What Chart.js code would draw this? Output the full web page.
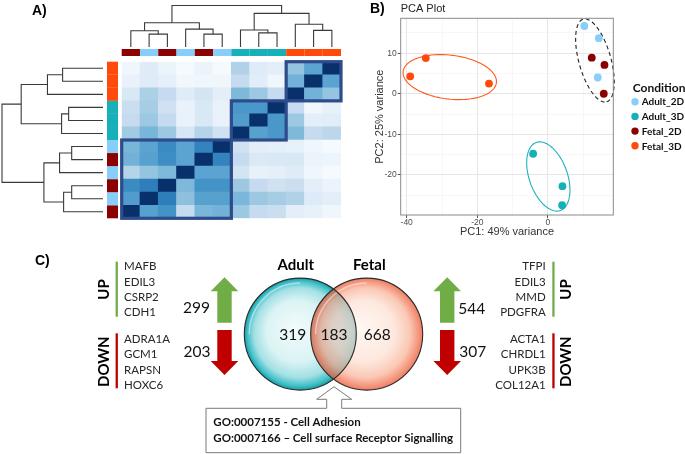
<!DOCTYPE html>
<html>
<head>
<meta charset="utf-8">
<title>Figure</title>
<script src="https://cdn.jsdelivr.net/npm/chart.js@4.4.1/dist/chart.umd.min.js"></script>
<style>
  body { margin: 0; background: #fff; }
  #wrap { position: relative; width: 685px; height: 454px; overflow: hidden; }
  canvas { position: absolute; }
</style>
</head>
<body>
<div id="wrap">
  <canvas id="heatChart" width="350" height="240" style="left:0;top:0"></canvas>
  <canvas id="pcaChart" width="335" height="240" style="left:350px;top:0"></canvas>
  <canvas id="vennChart" width="685" height="214" style="left:0;top:240px"></canvas>
</div>
<script>

// ---- data ----
// sample order of the heatmap columns (rows are the same samples, bottom to top)
var sampleGroups = ["Fetal_2D","Adult_2D","Fetal_2D","Adult_2D","Fetal_2D","Adult_2D",
                    "Adult_3D","Adult_3D","Adult_3D","Fetal_3D","Fetal_3D","Fetal_3D"];
var groupColors = {Adult_2D: "#87cefa", Adult_3D: "#15b0b8", Fetal_2D: "#8b0000", Fetal_3D: "#ff4a0a"};

// sample similarity, rows as seen top to bottom, columns left to right (1 = identical)
var heatRows = [
  [0.04,0.12,0.06,0.01,0.06,0.01, 0.32,0.12,0.10,0.40,0.55,1.00],
  [0.07,0.12,0.09,0.03,0.04,0.04, 0.25,0.11,0.04,0.48,1.00,0.55],
  [0.15,0.33,0.25,0.12,0.18,0.10, 0.45,0.38,0.25,1.00,0.48,0.40],
  [0.23,0.35,0.20,0.07,0.15,0.07, 0.60,0.60,1.00,0.25,0.04,0.08],
  [0.25,0.38,0.25,0.07,0.15,0.07, 0.58,1.00,0.60,0.38,0.10,0.11],
  [0.37,0.47,0.38,0.16,0.30,0.20, 1.00,0.56,0.60,0.45,0.25,0.28],
  [0.47,0.55,0.65,0.55,0.68,1.00, 0.20,0.10,0.09,0.08,0.04,0.01],
  [0.48,0.56,0.64,0.55,1.00,0.68, 0.25,0.14,0.15,0.15,0.06,0.05],
  [0.30,0.40,0.45,1.00,0.55,0.55, 0.18,0.08,0.09,0.12,0.04,0.01],
  [0.65,0.70,1.00,0.45,0.62,0.62, 0.38,0.25,0.20,0.23,0.10,0.06],
  [0.58,1.00,0.70,0.42,0.56,0.56, 0.46,0.38,0.35,0.32,0.13,0.10],
  [1.00,0.56,0.62,0.25,0.46,0.48, 0.38,0.25,0.23,0.10,0.08,0.04]
];

// hierarchical clustering: [child a, child b, height]; leaves 0-11, merges get ids 12, 13, ...
var dendroMerges = [
  [1, 2, 31], [0, 12, 39], [4, 5, 31], [3, 14, 43], [13, 15, 58.5],
  [7, 8, 34], [6, 17, 41], [10, 11, 40], [9, 19, 55], [18, 20, 81], [16, 21, 100]
];
// clusters boxed on the heatmap (first and last sample)
var heatBlocks = [[0, 5], [6, 8], [9, 11]];

// PCA scores
var pcaAdult2D = [{x: 10.3, y: 16.7}, {x: 14.4, y: 13.7}, {x: 14.1, y: 4.0}];
var pcaAdult3D = [{x: -4.2, y: -14.8}, {x: 4.1, y: -22.8}, {x: 4.0, y: -27.5}];
var pcaFetal2D = [{x: 12.4, y: 8.9}, {x: 16.0, y: 7.1}, {x: 15.8, y: 0.0}];
var pcaFetal3D = [{x: -39.0, y: 4.3}, {x: -34.6, y: 8.8}, {x: -16.7, y: 2.5}];
var pcaXGrid = [-40, -30, -20, -10, 0, 10];
var pcaXLabels = [-40, -20, 0];
var pcaYGrid = [-25, -20, -15, -10, -5, 0, 5, 10, 15];
var pcaYLabels = [-20, -10, 0, 10];

// Venn / DE genes
var vennNames = ["Adult", "Fetal"];
var vennCounts = [319, 183, 668];      // adult only, shared, fetal only
var adultUpDown = [299, 203];
var fetalUpDown = [544, 307];
var adultUpGenes = ["MAFB", "EDIL3", "CSRP2", "CDH1"];
var adultDownGenes = ["ADRA1A", "GCM1", "RAPSN", "HOXC6"];
var fetalUpGenes = ["TFPI", "EDIL3", "MMD", "PDGFRA"];
var fetalDownGenes = ["ACTA1", "CHRDL1", "UPK3B", "COL12A1"];
var goTerms = ["GO:0007155 - Cell Adhesion", "GO:0007166 \u2013 Cell surface Receptor Signalling"];

// ---- helpers ----
var bluesPalette = ["#f7fbff","#deebf7","#c6dbef","#9ecae1","#6baed6","#4292c6","#2171b5","#08519c","#08306b"];

function hexRgb(h){
  return [parseInt(h.substr(1,2),16), parseInt(h.substr(3,2),16), parseInt(h.substr(5,2),16)];
}

function blueColor(v){
  var p = Math.max(0, Math.min(1, v)) * 8;
  var i = Math.min(7, Math.floor(p)), t = p - i;
  var a = hexRgb(bluesPalette[i]), b = hexRgb(bluesPalette[i+1]);
  return "rgb(" + Math.round(a[0]+(b[0]-a[0])*t) + "," + Math.round(a[1]+(b[1]-a[1])*t) + "," + Math.round(a[2]+(b[2]-a[2])*t) + ")";
}

function dendroNodes(leafPos){
  var nodes = leafPos.map(function(p){ return {pos: p, h: 0}; });
  dendroMerges.forEach(function(m){
    var a = nodes[m[0]], b = nodes[m[1]];
    nodes.push({pos: (a.pos + b.pos) / 2, h: m[2], a: a, b: b});
  });
  return nodes;
}

var SANS = "'Liberation Sans', Arial, sans-serif";
var LATO = "Lato, 'Liberation Sans', sans-serif";

// ---- A) heatmap ----
var heatDecor = {
  id: "heatDecor",
  afterDatasetsDraw: function(chart){
    var ctx = chart.ctx, xs = chart.scales.x, ys = chart.scales.y;
    var cw = chart.chartArea.width / 12;
    var s, x;

    // group colour bars
    for (s = 0; s < 12; s++) {
      ctx.fillStyle = groupColors[sampleGroups[s]];
      x = xs.getPixelForValue(s);
      ctx.fillRect(x - cw/2, 49, cw, 7);
      var y0 = ys.getPixelForValue(s + 1), y1 = ys.getPixelForValue(s);
      ctx.fillRect(107, y0, 11, y1 - y0);
    }

    // cluster boxes
    ctx.strokeStyle = "#2e4b8b";
    ctx.lineWidth = 3.2;
    heatBlocks.forEach(function(b){
      var xl = xs.getPixelForValue(b[0]) - cw/2, xr = xs.getPixelForValue(b[1]) + cw/2;
      var yt = ys.getPixelForValue(b[1] + 1), yb = ys.getPixelForValue(b[0]);
      ctx.strokeRect(xl, yt, xr - xl, yb - yt);
    });

    // dendrograms
    ctx.strokeStyle = "#3a3a3a";
    ctx.lineWidth = 1.1;
    var leafX = [], leafY = [];
    for (s = 0; s < 12; s++) { leafX.push(xs.getPixelForValue(s)); leafY.push(ys.getPixelForValue(s + 0.5)); }

    var top = dendroNodes(leafX);
    var topY = function(h){ return 47 - h * 0.415; };
    top.forEach(function(n){
      if (!n.a) return;
      ctx.beginPath();
      ctx.moveTo(n.a.pos, topY(n.a.h)); ctx.lineTo(n.a.pos, topY(n.h));
      ctx.lineTo(n.b.pos, topY(n.h)); ctx.lineTo(n.b.pos, topY(n.b.h));
      ctx.stroke();
    });

    var left = dendroNodes(leafY);
    var leftX = function(h){ return 103 - h * 1.01; };
    left.forEach(function(n){
      if (!n.a) return;
      ctx.beginPath();
      ctx.moveTo(leftX(n.a.h), n.a.pos); ctx.lineTo(leftX(n.h), n.a.pos);
      ctx.lineTo(leftX(n.h), n.b.pos); ctx.lineTo(leftX(n.b.h), n.b.pos);
      ctx.stroke();
    });

    ctx.fillStyle = "#000";
    ctx.font = "bold 14px " + SANS;
    ctx.textAlign = "left";
    ctx.textBaseline = "alphabetic";
    ctx.fillText("A)", 32, 15);
  }
};

var heatSets = [];
for (var k = 0; k < 12; k++) {
  var row = heatRows[11 - k];
  heatSets.push({
    label: sampleGroups[k],
    data: row.map(function(){ return 1; }),
    backgroundColor: row.map(blueColor),
    borderWidth: 0,
    barPercentage: 1,
    categoryPercentage: 1
  });
}

new Chart(document.getElementById("heatChart"), {
  type: "bar",
  data: { labels: sampleGroups, datasets: heatSets },
  options: {
    responsive: false,
    animation: false,
    layout: { padding: { left: 121.7, right: 9, top: 61.7, bottom: 21.7 } },
    plugins: { legend: { display: false }, tooltip: { enabled: false } },
    scales: {
      x: { stacked: true, display: false },
      y: { stacked: true, display: false, min: 0, max: 12 }
    }
  },
  plugins: [heatDecor]
});

// ---- B) PCA ----
// hand drawn group outlines: centre and two conjugate half axes, in PC units
var pcaOutlines = [
  { cx: -27.8, cy: 4.1, ux: 13.2, uy: -1.4, vx: 0.76, vy: 5.37, color: "#ff5a1e", dash: [] },
  { cx: 0.1, cy: -20.4, ux: 3.4, uy: -8.4, vx: 5.1, vy: 1.55, color: "#1cb3bb", dash: [] },
  { cx: 13.3, cy: 8.2, ux: 3.3, uy: -10.2, vx: 4.36, vy: 1.07, color: "#222", dash: [4, 3] }
];

var pcaDecor = {
  id: "pcaDecor",
  beforeDatasetsDraw: function(chart){
    var ctx = chart.ctx, xs = chart.scales.x, ys = chart.scales.y;
    ctx.save();
    ctx.lineWidth = 1.1;
    pcaOutlines.forEach(function(e){
      ctx.strokeStyle = e.color;
      ctx.setLineDash(e.dash);
      ctx.beginPath();
      for (var t = 0; t <= 96; t++) {
        var a = t / 96 * 2 * Math.PI;
        var px = xs.getPixelForValue(e.cx + e.ux * Math.cos(a) + e.vx * Math.sin(a));
        var py = ys.getPixelForValue(e.cy + e.uy * Math.cos(a) + e.vy * Math.sin(a));
        if (t === 0) ctx.moveTo(px, py); else ctx.lineTo(px, py);
      }
      ctx.closePath();
      ctx.stroke();
    });
    ctx.restore();
  },
  afterDraw: function(chart){
    var ctx = chart.ctx, area = chart.chartArea;
    ctx.save();
    ctx.strokeStyle = "#8a8a8a";
    ctx.lineWidth = 1;
    ctx.strokeRect(area.left, area.top, area.right - area.left, area.bottom - area.top);

    ctx.fillStyle = "#000";
    ctx.textAlign = "left";
    ctx.textBaseline = "alphabetic";
    ctx.font = "bold 14px " + SANS;
    ctx.fillText("B)", 20, 13.3);
    ctx.fillStyle = "#222";
    ctx.font = "11px " + SANS;
    ctx.fillText("PCA Plot", area.left, 11.7);

    // legend
    ctx.fillStyle = "#111";
    ctx.font = "bold 12px " + LATO;
    ctx.fillText("Condition", 282.7, 91.7);
    ctx.font = "bold 10px " + LATO;
    ctx.textBaseline = "middle";
    chart.data.datasets.forEach(function(d, i){
      var cy = 101.7 + i * 14.7;
      ctx.fillStyle = d.backgroundColor;
      ctx.beginPath();
      ctx.arc(285, cy, 3.7, 0, 2 * Math.PI);
      ctx.fill();
      ctx.fillStyle = "#111";
      ctx.fillText(d.label, 291.7, cy + 0.5);
    });
    ctx.restore();
  }
};

function gridStyle(major){
  return {
    color: function(c){ return c.tick && major.indexOf(c.tick.value) >= 0 ? "#e6e6e6" : "#f1f1f1"; },
    lineWidth: function(c){ return c.tick && major.indexOf(c.tick.value) >= 0 ? 1 : 0.6; },
    tickColor: function(c){ return c.tick && major.indexOf(c.tick.value) >= 0 ? "#555" : "rgba(0,0,0,0)"; },
    tickWidth: 1,
    tickLength: 3,
    drawTicks: true
  };
}

var pcaSets = [
  { label: "Adult_2D", data: pcaAdult2D, backgroundColor: groupColors.Adult_2D },
  { label: "Adult_3D", data: pcaAdult3D, backgroundColor: groupColors.Adult_3D },
  { label: "Fetal_2D", data: pcaFetal2D, backgroundColor: groupColors.Fetal_2D },
  { label: "Fetal_3D", data: pcaFetal3D, backgroundColor: groupColors.Fetal_3D }
];
pcaSets.forEach(function(d){
  d.pointRadius = 3.9;
  d.pointHoverRadius = 3.9;
  d.borderWidth = 0;
  d.borderColor = d.backgroundColor;
});

new Chart(document.getElementById("pcaChart"), {
  type: "scatter",
  data: { datasets: pcaSets },
  options: {
    responsive: false,
    animation: false,
    layout: { padding: { left: 0, right: 71.7, top: 18.3, bottom: 0 } },
    plugins: { legend: { display: false }, tooltip: { enabled: false } },
    scales: {
      x: {
        type: "linear", min: -41.7, max: 18.5,
        afterBuildTicks: function(s){ s.ticks = pcaXGrid.map(function(v){ return {value: v}; }); },
        afterFit: function(s){ s.height = 25; },
        ticks: {
          callback: function(v){ return pcaXLabels.indexOf(v) >= 0 ? String(v) : ""; },
          font: { family: SANS, size: 8.5 }, color: "#4d4d4d", padding: 0, maxRotation: 0, autoSkip: false
        },
        grid: gridStyle(pcaXLabels),
        border: { display: false },
        title: { display: true, text: "PC1: 49% variance", font: { family: SANS, size: 11 }, color: "#333",
                 padding: { top: 0, bottom: 1.7 } }
      },
      y: {
        type: "linear", min: -29.9, max: 18.6,
        afterBuildTicks: function(s){ s.ticks = pcaYGrid.map(function(v){ return {value: v}; }); },
        afterFit: function(s){ s.width = 50.7; },
        ticks: {
          callback: function(v){ return pcaYLabels.indexOf(v) >= 0 ? String(v) : ""; },
          font: { family: SANS, size: 8.5 }, color: "#4d4d4d", padding: 1, autoSkip: false
        },
        grid: gridStyle(pcaYLabels),
        border: { display: false },
        title: { display: true, text: "PC2: 25% variance", font: { family: SANS, size: 11 }, color: "#333",
                 padding: { top: 23.4, bottom: 0 } }
      }
    }
  },
  plugins: [pcaDecor]
});

// ---- C) Venn diagram ----
function blockArrow(ctx, cx, top, bottom, up, color){
  var hw = 13.8, sw = 7.2, head = 14;
  ctx.fillStyle = color;
  ctx.beginPath();
  if (up) {
    ctx.moveTo(cx, top);
    ctx.lineTo(cx + hw, top + head); ctx.lineTo(cx + sw, top + head);
    ctx.lineTo(cx + sw, bottom); ctx.lineTo(cx - sw, bottom);
    ctx.lineTo(cx - sw, top + head); ctx.lineTo(cx - hw, top + head);
  } else {
    ctx.moveTo(cx - sw, top); ctx.lineTo(cx + sw, top);
    ctx.lineTo(cx + sw, bottom - head); ctx.lineTo(cx + hw, bottom - head);
    ctx.lineTo(cx, bottom);
    ctx.lineTo(cx - hw, bottom - head); ctx.lineTo(cx - sw, bottom - head);
  }
  ctx.closePath();
  ctx.fill();
}

function geneList(ctx, genes, x, y0, align){
  ctx.fillStyle = "#262626";
  ctx.font = "11.5px " + LATO;
  ctx.textAlign = align;
  ctx.textBaseline = "middle";
  genes.forEach(function(g, i){ ctx.fillText(g, x, y0 + i * 15.3); });
}

function sideLabel(ctx, text, x, y){
  ctx.save();
  ctx.translate(x, y);
  ctx.rotate(-Math.PI / 2);
  ctx.fillStyle = "#000";
  ctx.font = "bold 15px " + LATO;
  ctx.textAlign = "center";
  ctx.textBaseline = "middle";
  ctx.fillText(text, 0, 0);
  ctx.restore();
}

function disc(ctx, cx, cy, r, stops){
  var g = ctx.createRadialGradient(cx - r * 0.12, cy - r * 0.12, 0, cx, cy, r);
  stops.forEach(function(s){ g.addColorStop(s[0], s[1]); });
  ctx.fillStyle = g;
  ctx.beginPath();
  ctx.arc(cx, cy, r, 0, 2 * Math.PI);
  ctx.fill();
}

var vennDecor = {
  id: "vennDecor",
  afterDraw: function(chart){
    var ctx = chart.ctx;
    ctx.save();
    ctx.translate(0, -240);

    ctx.fillStyle = "#000";
    ctx.font = "bold 14px " + SANS;
    ctx.textAlign = "left";
    ctx.textBaseline = "alphabetic";
    ctx.fillText("C)", 35, 265);

    // gene lists
    sideLabel(ctx, "UP", 103.8, 289.5);
    sideLabel(ctx, "DOWN", 103.8, 361.7);
    ctx.fillStyle = "#70ad47"; ctx.fillRect(115.6, 261.7, 2.3, 55);
    ctx.fillStyle = "#c00000"; ctx.fillRect(115.6, 333.3, 2.3, 55);
    geneList(ctx, adultUpGenes, 124, 266.7, "left");
    geneList(ctx, adultDownGenes, 124, 339.3, "left");

    sideLabel(ctx, "UP", 565.8, 289.5);
    sideLabel(ctx, "DOWN", 565.8, 361.7);
    ctx.fillStyle = "#70ad47"; ctx.fillRect(552.3, 261.7, 2.3, 55);
    ctx.fillStyle = "#c00000"; ctx.fillRect(552.3, 333.3, 2.3, 55);
    geneList(ctx, fetalUpGenes, 545.7, 266.7, "right");
    geneList(ctx, fetalDownGenes, 545.7, 339.3, "right");

    // up / down arrows and counts
    blockArrow(ctx, 224.5, 277.3, 322.7, true, "#70ad47");
    blockArrow(ctx, 224.5, 330, 375, false, "#c00000");
    blockArrow(ctx, 447.2, 277.3, 322.7, true, "#70ad47");
    blockArrow(ctx, 447.2, 330, 375, false, "#c00000");
    ctx.fillStyle = "#111";
    ctx.font = "15.5px " + LATO;
    ctx.textAlign = "center";
    ctx.textBaseline = "middle";
    ctx.fillText(String(adultUpDown[0]), 196.5, 308.3);
    ctx.fillText(String(adultUpDown[1]), 197, 351.7);
    ctx.fillText(String(fetalUpDown[0]), 471.7, 309.3);
    ctx.fillText(String(fetalUpDown[1]), 472.7, 351.7);

    // circles
    var ax = 300.3, fx = 366.7, cy = 334.1, r = 56;
    disc(ctx, ax, cy, r, [[0, "#f3fbfb"], [0.55, "#daf3f4"], [0.8, "#a3e0e4"], [0.93, "#45c1c9"], [1, "#139fa8"]]);
    ctx.globalAlpha = 0.78;
    disc(ctx, fx, cy, r, [[0, "#fff6f1"], [0.55, "#fde2d5"], [0.8, "#f9b8a0"], [0.93, "#f27b5b"], [1, "#e85a38"]]);
    ctx.globalAlpha = 1;
    ctx.save();
    ctx.beginPath(); ctx.arc(ax, cy, r, 0, 2 * Math.PI); ctx.clip();
    ctx.beginPath(); ctx.arc(fx, cy, r, 0, 2 * Math.PI);
    ctx.fillStyle = "rgba(120,105,95,0.16)";
    ctx.fill();
    ctx.restore();
    ctx.strokeStyle = "rgba(255,255,255,0.45)";
    ctx.lineWidth = 1.5;
    [ax, fx].forEach(function(x){
      ctx.beginPath(); ctx.arc(x, cy, r - 5, Math.PI * 1.0, Math.PI * 1.5); ctx.stroke();
    });
    ctx.strokeStyle = "#2b2b2b";
    ctx.lineWidth = 1.1;
    [ax, fx].forEach(function(x){
      ctx.beginPath(); ctx.arc(x, cy, r, 0, 2 * Math.PI); ctx.stroke();
    });

    ctx.fillStyle = "#000";
    ctx.font = "bold 15px " + LATO;
    ctx.fillText(vennNames[0], 295.7, 265);
    ctx.fillText(vennNames[1], 369.3, 265);
    ctx.fillStyle = "#111";
    ctx.font = "15.5px " + LATO;
    ctx.fillText(String(vennCounts[0]), 292.7, 335);
    ctx.fillText(String(vennCounts[1]), 334, 335);
    ctx.fillText(String(vennCounts[2]), 377.3, 335);

    // GO call-out
    ctx.beginPath();
    ctx.moveTo(206, 408.3); ctx.lineTo(326.7, 408.3); ctx.lineTo(326.7, 399.3);
    ctx.lineTo(316.7, 399.3); ctx.lineTo(334, 386.7); ctx.lineTo(351.7, 399.3);
    ctx.lineTo(341.7, 399.3); ctx.lineTo(341.7, 408.3); ctx.lineTo(460.7, 408.3);
    ctx.lineTo(460.7, 452.7); ctx.lineTo(206, 452.7); ctx.closePath();
    ctx.fillStyle = "#fff";
    ctx.fill();
    ctx.strokeStyle = "#7a7a7a";
    ctx.lineWidth = 1;
    ctx.stroke();
    ctx.fillStyle = "#111";
    ctx.font = "bold 11.5px " + LATO;
    ctx.textAlign = "left";
    ctx.fillText(goTerms[0], 213.3, 422.7);
    ctx.fillText(goTerms[1], 213.3, 438.3);

    ctx.restore();
  }
};

new Chart(document.getElementById("vennChart"), {
  type: "scatter",
  data: { datasets: [] },
  options: {
    responsive: false,
    animation: false,
    plugins: { legend: { display: false }, tooltip: { enabled: false } },
    scales: { x: { display: false }, y: { display: false } }
  },
  plugins: [vennDecor]
});

</script>
</body>
</html>
